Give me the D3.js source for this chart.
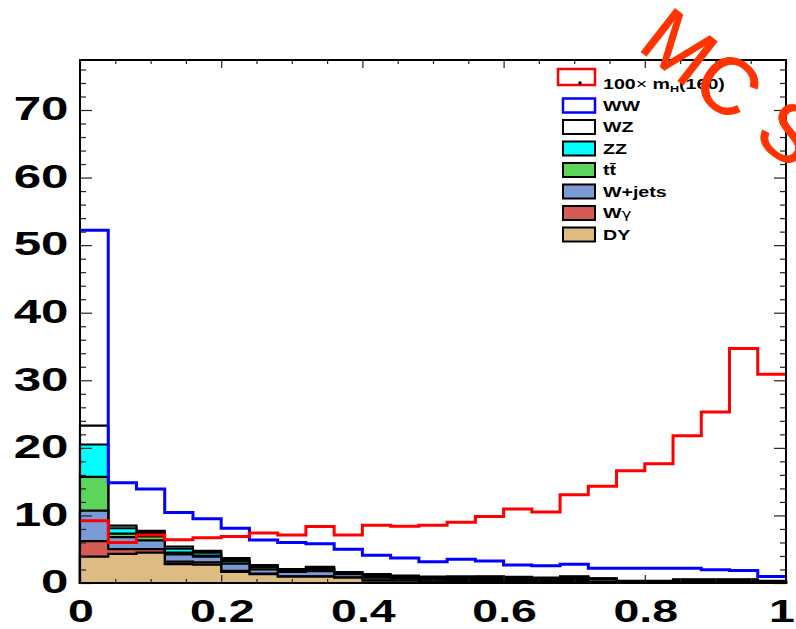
<!DOCTYPE html>
<html>
<head>
<meta charset="utf-8">
<script src="https://cdn.jsdelivr.net/npm/d3@7"></script>
<style>
  body { margin: 0; background: #fff; }
  text { font-family: "Liberation Sans", Arial, sans-serif; }
</style>
</head>
<body>
<svg class="chart"></svg>
<script>
// bin low edges (25 bins of 0.04)
var binLow = [0, 0.04, 0.08, 0.12, 0.16, 0.2, 0.24, 0.28, 0.32, 0.36, 0.4, 0.44, 0.48,
              0.52, 0.56, 0.6, 0.64, 0.68, 0.72, 0.76, 0.8, 0.84, 0.88, 0.92, 0.96];

// 100 x signal mH=160
var signal = [9.2, 6.0, 7.1, 6.4, 6.7, 6.9, 7.4, 7.1, 8.35, 7.1, 8.55, 8.4, 8.55,
              9.0, 9.85, 10.95, 10.5, 13.05, 14.3, 16.6, 17.65, 21.8, 25.3, 34.7, 30.9];
var ww = [52.2, 14.85, 13.9, 10.45, 9.5, 8.1, 6.35, 6.0, 5.8, 5.0, 4.1, 3.7, 3.15,
          3.5, 3.25, 2.66, 2.56, 2.77, 2.2, 2.2, 2.2, 2.2, 1.95, 1.85, 0.95];

// stacked backgrounds, bottom to top
var dy    = [3.9, 4.3, 4.5, 2.8, 2.7, 1.65, 1.3, 0.95, 0.95, 0.8, 0.35, 0.35, 0.2, 0.3, 0.3, 0.25, 0.2, 0.3, 0.15, 0.05, 0.05, 0.1, 0.1, 0.1, 0.05];
var wgam  = [2.3, 0.7, 0.5, 0.35, 0.35, 0.15, 0.1, 0.05, 0.05, 0.05, 0.05, 0.03, 0.02, 0.02, 0.02, 0.02, 0.02, 0.02, 0.02, 0, 0, 0, 0, 0, 0];
var wjets = [4.5, 1.8, 1.3, 1.1, 0.85, 1.05, 0.6, 0.65, 0.75, 0.45, 0.4, 0.37, 0.3, 0.3, 0.28, 0.25, 0.2, 0.3, 0.35, 0.1, 0.1, 0.15, 0.15, 0.15, 0.1];
var ttbar = [5.0, 0.5, 0.6, 0.25, 0.15, 0.35, 0.3, 0.2, 0.3, 0.1, 0.2, 0.15, 0.2, 0.15, 0.2, 0.18, 0.18, 0.18, 0.08, 0.05, 0.05, 0.1, 0.1, 0.1, 0.05];
var zz    = [4.8, 0.8, 0.5, 0.6, 0.45, 0.25, 0.15, 0.1, 0.2, 0.1, 0.15, 0.1, 0.1, 0.1, 0.1, 0.1, 0.1, 0.1, 0.05, 0.05, 0.05, 0.1, 0.1, 0.1, 0.05];
var wz    = [2.8, 0.4, 0.3, 0.3, 0.25, 0.25, 0.2, 0.12, 0.15, 0.1, 0.15, 0.1, 0.13, 0.13, 0.1, 0.1, 0.1, 0.1, 0.05, 0.05, 0.05, 0.1, 0.1, 0.1, 0.05];

var stackNames  = ["DY", "Wgamma", "Wjets", "ttbar", "ZZ", "WZ"];
var stackSeries = [dy, wgam, wjets, ttbar, zz, wz];
var stackColors = ["#dfbb84", "#d55b55", "#7b9bd6", "#5cd65a", "#00ffff", "#ffffff"];

var yMajor = [0, 10, 20, 30, 40, 50, 60, 70];
var yLabels = ["0", "10", "20", "30", "40", "50", "60", "70"];
var xMajor = [0, 0.2, 0.4, 0.6, 0.8, 1];
var xLabels = ["0", "0.2", "0.4", "0.6", "0.8", "1"];

var width = 796;
var height = 629;

var svg = d3.select(".chart").attr("width", width).attr("height", height);

var x = d3.scaleLinear().domain([0, 1]).range([80, 786]);
var y = d3.scaleLinear().domain([0, 77.4]).range([583, 60]);

// table for d3.stack
var table = binLow.map(function (b, i) {
  var row = { x: b };
  stackNames.forEach(function (n, k) { row[n] = stackSeries[k][i]; });
  return row;
});
// extra point so the last step reaches x = 1
var lastRow = Object.assign({}, table[table.length - 1], { x: 1 });
table.push(lastRow);

var stacked = d3.stack().keys(stackNames)(table);

var area = d3.area()
  .curve(d3.curveStepAfter)
  .x(function (d) { return x(d.data.x); })
  .y0(y(0))
  .y1(function (d) { return y(d[1]); });

// ROOT style: draw each cumulative histogram from the top one down
for (var k = stacked.length - 1; k >= 0; k--) {
  svg.append("path")
    .datum(stacked[k])
    .attr("d", area)
    .attr("fill", stackColors[k])
    .attr("stroke", "#000")
    .attr("stroke-width", 2.2);
}

function stepData(vals) {
  var pts = binLow.map(function (b, i) { return { x: b, v: vals[i] }; });
  pts.push({ x: 1, v: vals[vals.length - 1] });
  return pts;
}

var line = d3.line()
  .curve(d3.curveStepAfter)
  .x(function (d) { return x(d.x); })
  .y(function (d) { return y(d.v); });

svg.append("path")
  .datum(stepData(ww))
  .attr("d", line)
  .attr("fill", "none")
  .attr("stroke", "#0000ff")
  .attr("stroke-width", 3);

svg.append("path")
  .datum(stepData(signal))
  .attr("d", line)
  .attr("fill", "none")
  .attr("stroke", "#ff0000")
  .attr("stroke-width", 3);

// ticks, pointing into the frame
var yMinor = d3.range(0, 78, 2).filter(function (v) { return v % 10 !== 0; });
var xMinor = d3.range(0, 1.001, 0.05).filter(function (v) { return Math.abs(v * 5 - Math.round(v * 5)) > 1e-6; });

function tickGroup(axis, tr) {
  var g = svg.append("g").attr("transform", tr).call(axis);
  g.select(".domain").remove();
  g.selectAll("line").attr("stroke", "#222").attr("stroke-width", 1.2);
  return g;
}

tickGroup(d3.axisLeft(y).tickValues(yMajor).tickSize(-12).tickFormat(""), "translate(80,0)");
tickGroup(d3.axisLeft(y).tickValues(yMinor).tickSize(-6).tickFormat(""), "translate(80,0)");
tickGroup(d3.axisRight(y).tickValues(yMajor).tickSize(-12).tickFormat(""), "translate(786,0)");
tickGroup(d3.axisRight(y).tickValues(yMinor).tickSize(-6).tickFormat(""), "translate(786,0)");
tickGroup(d3.axisTop(x).tickValues(xMajor).tickSize(-8).tickFormat(""), "translate(0,60)");
tickGroup(d3.axisTop(x).tickValues(xMinor).tickSize(-4).tickFormat(""), "translate(0,60)");
tickGroup(d3.axisBottom(x).tickValues(xMajor).tickSize(-8).tickFormat(""), "translate(0,583)");
tickGroup(d3.axisBottom(x).tickValues(xMinor).tickSize(-4).tickFormat(""), "translate(0,583)");

// frame
svg.append("rect")
  .attr("x", x(0)).attr("y", y(77.4))
  .attr("width", x(1) - x(0)).attr("height", y(0) - y(77.4))
  .attr("fill", "none").attr("stroke", "#000").attr("stroke-width", 2);

// tick labels (wide bold font)
yMajor.forEach(function (v, i) {
  svg.append("text")
    .attr("transform", "translate(68.5," + (y(v) - 2) + ") scale(1.45,1)")
    .attr("text-anchor", "end")
    .attr("dy", "0.36em")
    .attr("font-size", 34)
    .attr("font-weight", "bold")
    .text(yLabels[i]);
});

xMajor.forEach(function (v, i) {
  // keep the last label inside the page
  var px = Math.min(x(v) + 1, 782);
  svg.append("text")
    .attr("transform", "translate(" + px + ",622) scale(1.5,1)")
    .attr("text-anchor", "middle")
    .attr("font-size", 31)
    .attr("font-weight", "bold")
    .text(xLabels[i]);
});

// legend
var legNames = ["WW", "WZ", "ZZ", "tt\u0304", "W+jets", "W", "DY"];
var legFill = ["#ffffff", "#ffffff", "#00ffff", "#5cd65a", "#7b9bd6", "#d55b55", "#dfbb84"];
var legStroke = ["#0000ff", "#000", "#000", "#000", "#000", "#000", "#000"];

var leg = svg.append("g");
leg.append("rect")
  .attr("x", 558).attr("y", 69).attr("width", 37).attr("height", 16)
  .attr("fill", "#fff").attr("stroke", "#ff0000").attr("stroke-width", 2.5);
leg.append("rect")
  .attr("x", 578.5).attr("y", 81.5).attr("width", 3).attr("height", 3).attr("fill", "#000");
var sigText = leg.append("text")
  .attr("transform", "translate(603,84) scale(1.4,1)")
  .attr("dy", "0.36em")
  .attr("font-size", 14)
  .attr("font-weight", "bold");
sigText.append("tspan").text("100");
sigText.append("tspan").attr("font-weight", "normal").text("\u00d7 ");
sigText.append("tspan").text("m");
sigText.append("tspan").attr("font-size", 9).attr("dy", "0.35em").text("H");
sigText.append("tspan").attr("dy", "-0.25em").text("(160)");

legNames.forEach(function (n, i) {
  var cy = 105.5 + i * 21.5;
  leg.append("rect")
    .attr("x", 563).attr("y", cy - 7).attr("width", 32).attr("height", 14)
    .attr("fill", legFill[i]).attr("stroke", legStroke[i])
    .attr("stroke-width", i === 0 ? 2.5 : 2);
  var t = leg.append("text")
    .attr("transform", "translate(603," + cy + ") scale(1.4,1)")
    .attr("dy", "0.36em")
    .attr("font-size", 14)
    .attr("font-weight", "bold")
    .text(n);
  if (n === "W") {
    t.append("tspan")
      .attr("font-family", "DejaVu Sans")
      .attr("font-weight", "normal")
      .attr("font-size", 12)
      .text("\u03b3");
  }
});

// watermark
svg.append("text")
  .attr("transform", "translate(636,48) rotate(38)")
  .attr("font-size", 80)
  .attr("fill", "#ff3300")
  .attr("stroke", "#ff3300")
  .attr("stroke-width", 0.8)
  .text("MC Simulation");
</script>
</body>
</html>
